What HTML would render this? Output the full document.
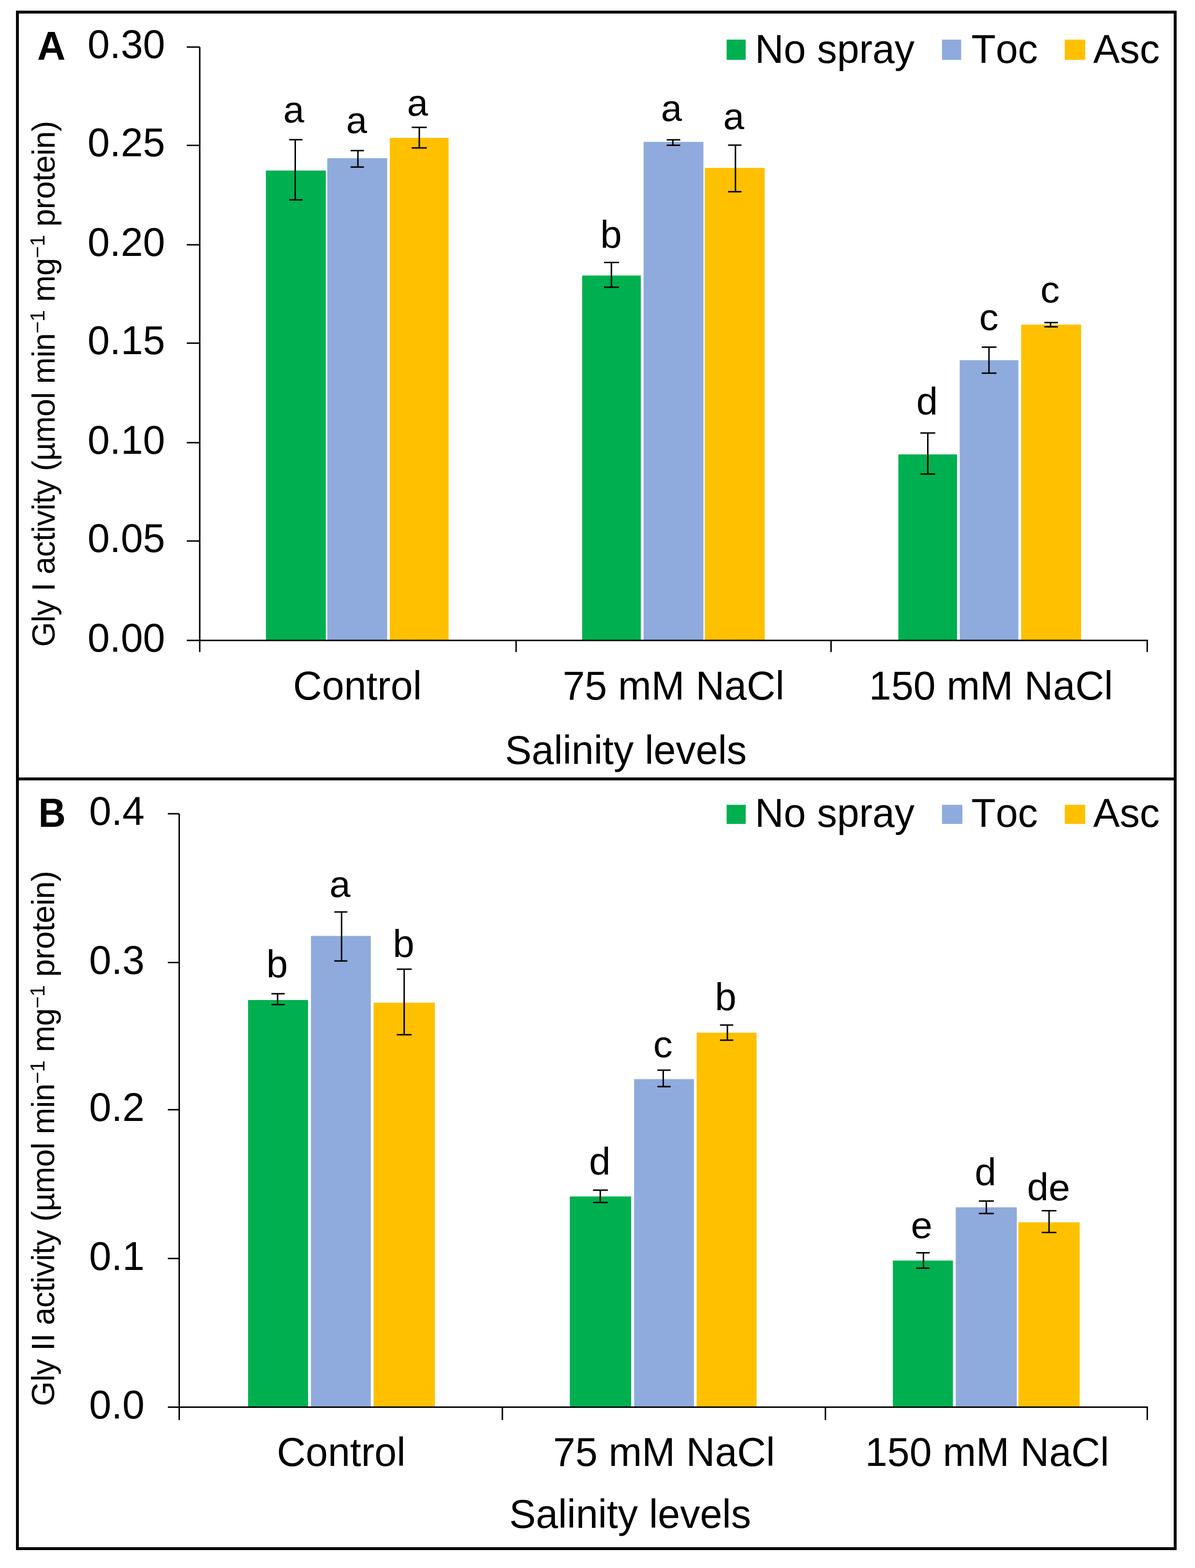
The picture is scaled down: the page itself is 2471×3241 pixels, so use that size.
<!DOCTYPE html><html><head><meta charset="utf-8"><title>Gly I and Gly II activity</title><style>html,body{margin:0;padding:0;background:#fff;}svg{display:block;}text{font-kerning:none;font-feature-settings:"kern" 0;}</style></head><body>
<svg width="2471" height="3241" viewBox="0 0 2471 3241" font-family="Liberation Sans, Arial, sans-serif">
<rect x="0" y="0" width="2471" height="3241" fill="#fff"/>
<rect x="36" y="25" width="2394" height="3176" fill="none" stroke="#000" stroke-width="6"/>
<line x1="33" y1="1610" x2="2433" y2="1610" stroke="#000" stroke-width="6"/>
<rect x="549.8" y="352.5" width="124.00" height="971.20" fill="#00B050"/>
<rect x="676.7" y="327" width="123.90" height="996.70" fill="#8FAADC"/>
<rect x="806.1" y="285" width="121.50" height="1038.70" fill="#FFC000"/>
<rect x="1203.75" y="569.5" width="121.25" height="754.20" fill="#00B050"/>
<rect x="1330.75" y="293.25" width="123.75" height="1030.45" fill="#8FAADC"/>
<rect x="1457.5" y="347" width="123.75" height="976.70" fill="#FFC000"/>
<rect x="1857.6" y="939.25" width="121.40" height="384.45" fill="#00B050"/>
<rect x="1984.5" y="744.5" width="121.25" height="579.20" fill="#8FAADC"/>
<rect x="2111.5" y="671" width="124.00" height="652.70" fill="#FFC000"/>
<path d="M610.5 288.75V413M598 288.75H625.5M598 413H625.5" stroke="#000" stroke-width="3" fill="none"/>
<path d="M740.1 311.25V345.3M725 311.25H752.5M725 345.3H752.5" stroke="#000" stroke-width="3" fill="none"/>
<path d="M867 263.25V305.75M851.25 263.25H882.5M851.25 305.75H882.5" stroke="#000" stroke-width="3" fill="none"/>
<path d="M1264.25 542.5V593.75M1249 542.5H1280M1249 593.75H1280" stroke="#000" stroke-width="3" fill="none"/>
<path d="M1391.3 288.9V300.3M1378.6 288.9H1406.6M1378.6 300.3H1406.6" stroke="#000" stroke-width="3" fill="none"/>
<path d="M1520.75 300V396.25M1505.5 300H1533.25M1505.5 396.25H1533.25" stroke="#000" stroke-width="3" fill="none"/>
<path d="M1918.5 895V979.8M1903.1 895H1933.8M1903.1 979.8H1933.8" stroke="#000" stroke-width="3" fill="none"/>
<path d="M2045 717.5V771.25M2030 717.5H2060.5M2030 771.25H2060.5" stroke="#000" stroke-width="3" fill="none"/>
<path d="M2172.3 666.8V675.5M2159.5 666.8H2187.5M2159.5 675.5H2187.5" stroke="#000" stroke-width="3" fill="none"/>
<path d="M413 97.3V1347.7M386.2 1323.7H2374M386.2 1323.7H413M386.2 1118.2H413M386.2 915.1H413M386.2 709.3H413M386.2 506.1H413M386.2 300.4H413M386.2 97.3H413M1067.2 1323.7V1347.7M1718.4 1323.7V1347.7M2372.2 1323.7V1347.7" stroke="#000" stroke-width="3" fill="none"/>
<text x="341.5" y="1346.7" font-size="82.5" text-anchor="end">0.00</text>
<text x="341.5" y="1141.2" font-size="82.5" text-anchor="end">0.05</text>
<text x="341.5" y="938.1" font-size="82.5" text-anchor="end">0.10</text>
<text x="341.5" y="732.3" font-size="82.5" text-anchor="end">0.15</text>
<text x="341.5" y="529.1" font-size="82.5" text-anchor="end">0.20</text>
<text x="341.5" y="323.4" font-size="82.5" text-anchor="end">0.25</text>
<text x="341.5" y="120.3" font-size="82.5" text-anchor="end">0.30</text>
<text transform="translate(607.5,252.8) scale(1,0.97)" font-size="78" text-anchor="middle">a</text>
<text transform="translate(737.5,275.2) scale(1,0.97)" font-size="78" text-anchor="middle">a</text>
<text transform="translate(863.4,239) scale(1,0.97)" font-size="78" text-anchor="middle">a</text>
<text transform="translate(1263.4,512.3) scale(1,1)" font-size="80" text-anchor="middle">b</text>
<text transform="translate(1388.5,250.3) scale(1,0.97)" font-size="78" text-anchor="middle">a</text>
<text transform="translate(1517.2,267) scale(1,0.97)" font-size="78" text-anchor="middle">a</text>
<text transform="translate(1917,856.5) scale(1,1)" font-size="80" text-anchor="middle">d</text>
<text transform="translate(2044.7,681.5) scale(1,0.95)" font-size="80" text-anchor="middle">c</text>
<text transform="translate(2171.3,625.2) scale(1,0.95)" font-size="80" text-anchor="middle">c</text>
<text x="739.1" y="1445.5" font-size="82.5" text-anchor="middle">Control</text>
<text x="1392.6" y="1445.5" font-size="82.5" text-anchor="middle">75 mM NaCl</text>
<text x="2049.2" y="1445.5" font-size="82.5" text-anchor="middle">150 mM NaCl</text>
<text x="1294.2" y="1578.5" font-size="82.5" text-anchor="middle">Salinity levels</text>
<text transform="translate(77.1,123.6) scale(0.963,1)" font-size="84" font-weight="bold">A</text>
<rect x="1502.5" y="81.9" width="39.4" height="41.8" fill="#00B050"/>
<rect x="1947.9" y="81.9" width="39.6" height="41.8" fill="#8FAADC"/>
<rect x="2201.7" y="81.9" width="42.3" height="41.8" fill="#FFC000"/>
<text x="1561" y="129.5" font-size="82.5">No spray</text>
<text x="2008.5" y="129.5" font-size="82.5">Toc</text>
<text x="2260.5" y="129.5" font-size="82.5">Asc</text>
<text transform="translate(112.6,1337) rotate(-90)" font-size="66" textLength="1087.3" lengthAdjust="spacing">Gly I activity (µmol min<tspan font-size="43" dy="-20.5">−1</tspan><tspan dy="20.5"> mg</tspan><tspan font-size="43" dy="-20.5">−1</tspan><tspan dy="20.5"> protein)</tspan></text>
<rect x="513" y="2067" width="124.00" height="841.50" fill="#00B050"/>
<rect x="643" y="1934.5" width="123.75" height="974.00" fill="#8FAADC"/>
<rect x="772.5" y="2072.5" width="126.75" height="836.00" fill="#FFC000"/>
<rect x="1178.25" y="2473" width="126.75" height="435.50" fill="#00B050"/>
<rect x="1311.25" y="2230.5" width="123.75" height="678.00" fill="#8FAADC"/>
<rect x="1440.5" y="2134.5" width="124.00" height="774.00" fill="#FFC000"/>
<rect x="1846.25" y="2605.5" width="124.25" height="303.00" fill="#00B050"/>
<rect x="1976.25" y="2495.5" width="126.25" height="413.00" fill="#8FAADC"/>
<rect x="2105.75" y="2526.5" width="126.75" height="382.00" fill="#FFC000"/>
<path d="M574 2054V2076.5M561.25 2054H588.75M561.25 2076.5H588.75" stroke="#000" stroke-width="3" fill="none"/>
<path d="M706.3 1885V1986.25M691.25 1885H718.25M691.25 1986.25H718.25" stroke="#000" stroke-width="3" fill="none"/>
<path d="M835.75 2003.25V2138.75M820.5 2003.25H851.25M820.5 2138.75H851.25" stroke="#000" stroke-width="3" fill="none"/>
<path d="M1241.25 2460V2485.5M1226.25 2460H1257M1226.25 2485.5H1257" stroke="#000" stroke-width="3" fill="none"/>
<path d="M1371.4 2212V2246.1M1359.25 2212H1386.75M1359.25 2246.1H1386.75" stroke="#000" stroke-width="3" fill="none"/>
<path d="M1504.1 2118.75V2150.1M1488.75 2118.75H1516.25M1488.75 2150.1H1516.25" stroke="#000" stroke-width="3" fill="none"/>
<path d="M1909.5 2589.5V2621.25M1894.5 2589.5H1922.5M1894.5 2621.25H1922.5" stroke="#000" stroke-width="3" fill="none"/>
<path d="M2039.5 2482.5V2508.25M2024.25 2482.5H2055M2024.25 2508.25H2055" stroke="#000" stroke-width="3" fill="none"/>
<path d="M2169.25 2502.5V2547.5M2154 2502.5H2184.5M2154 2547.5H2184.5" stroke="#000" stroke-width="3" fill="none"/>
<path d="M370.6 1682V2935.2M347 2908.5H2373.75M347 2908.5H370.6M347 2601.3H370.6M347 2293.8H370.6M347 1989.4H370.6M347 1682H370.6M1038.8 2908.5V2935.2M1706.8 2908.5V2935.2M2372.3 2908.5V2935.2" stroke="#000" stroke-width="3" fill="none"/>
<text x="299" y="2931.8" font-size="82.5" text-anchor="end">0.0</text>
<text x="299" y="2624.6" font-size="82.5" text-anchor="end">0.1</text>
<text x="299" y="2317.1" font-size="82.5" text-anchor="end">0.2</text>
<text x="299" y="2012.7" font-size="82.5" text-anchor="end">0.3</text>
<text x="299" y="1705.3" font-size="82.5" text-anchor="end">0.4</text>
<text transform="translate(573,2020.3) scale(1,1)" font-size="80" text-anchor="middle">b</text>
<text transform="translate(703,1854) scale(1,0.97)" font-size="78" text-anchor="middle">a</text>
<text transform="translate(834.5,1978) scale(1,1)" font-size="80" text-anchor="middle">b</text>
<text transform="translate(1240.3,2428) scale(1,1)" font-size="80" text-anchor="middle">d</text>
<text transform="translate(1370.8,2184.6) scale(1,0.95)" font-size="80" text-anchor="middle">c</text>
<text transform="translate(1500.4,2088) scale(1,1)" font-size="80" text-anchor="middle">b</text>
<text transform="translate(1905.8,2559) scale(1,0.94)" font-size="80" text-anchor="middle">e</text>
<text transform="translate(2037.8,2450) scale(1,1)" font-size="80" text-anchor="middle">d</text>
<text transform="translate(2123.7,2481) scale(1,1)" font-size="80">d</text>
<text transform="translate(2168.18,2481) scale(1,0.94)" font-size="80">e</text>
<text x="705.5" y="3030" font-size="82.5" text-anchor="middle">Control</text>
<text x="1373" y="3030" font-size="82.5" text-anchor="middle">75 mM NaCl</text>
<text x="2041.1" y="3030" font-size="82.5" text-anchor="middle">150 mM NaCl</text>
<text x="1303" y="3158" font-size="82.5" text-anchor="middle">Salinity levels</text>
<text transform="translate(79.4,1708.5) scale(0.93,1)" font-size="84" font-weight="bold">B</text>
<rect x="1502.5" y="1663.5" width="39.5" height="39.5" fill="#00B050"/>
<rect x="1947.9" y="1663.5" width="42.1" height="39.5" fill="#8FAADC"/>
<rect x="2201.7" y="1663.5" width="42.3" height="39.5" fill="#FFC000"/>
<text x="1561" y="1709" font-size="82.5">No spray</text>
<text x="2008.5" y="1709" font-size="82.5">Toc</text>
<text x="2260.5" y="1709" font-size="82.5">Asc</text>
<text transform="translate(112.4,2906.5) rotate(-90)" font-size="66" textLength="1106.4" lengthAdjust="spacing">Gly II activity (µmol min<tspan font-size="43" dy="-20.5">−1</tspan><tspan dy="20.5"> mg</tspan><tspan font-size="43" dy="-20.5">−1</tspan><tspan dy="20.5"> protein)</tspan></text>
</svg></body></html>
